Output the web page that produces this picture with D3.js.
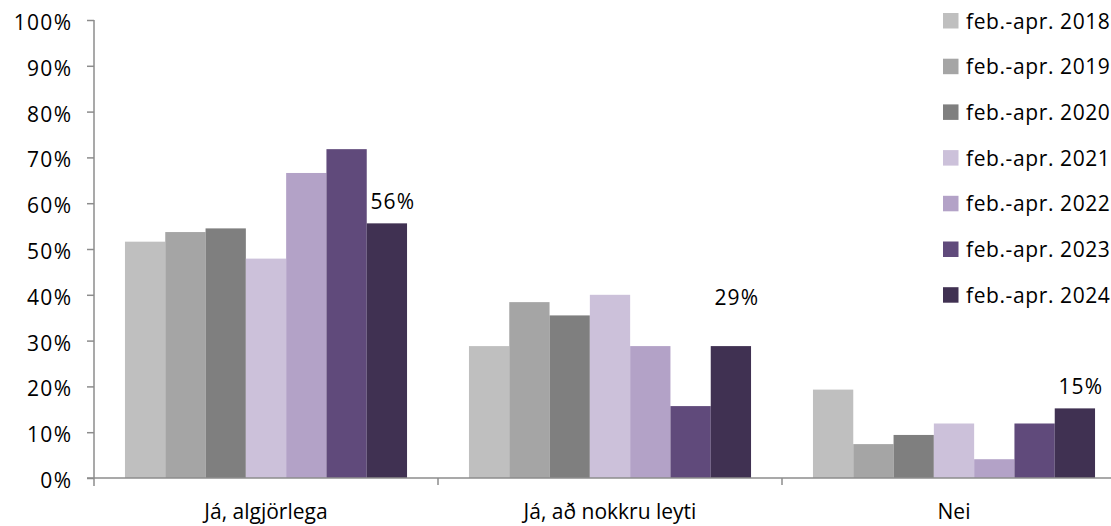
<!DOCTYPE html>
<html><head><meta charset="utf-8">
<script src="https://cdn.jsdelivr.net/npm/d3@7"></script>
<style>
html,body{margin:0;padding:0;background:#fff;}
text{font-family:"Open Sans",sans-serif;fill:#000;}
</style></head>
<body><svg id="c" width="1111" height="526"></svg>
<script>
const categories = ["Já, algjörlega", "Já, að nokkru leyti", "Nei"];
const seriesNames = ["feb.-apr. 2018","feb.-apr. 2019","feb.-apr. 2020","feb.-apr. 2021","feb.-apr. 2022","feb.-apr. 2023","feb.-apr. 2024"];
const v2018 = [51.6, 28.8, 19.3];
const v2019 = [53.7, 38.4, 7.4];
const v2020 = [54.5, 35.5, 9.4];
const v2021 = [47.9, 40.0, 11.9];
const v2022 = [66.6, 28.8, 4.1];
const v2023 = [71.8, 15.7, 11.9];
const v2024 = [55.6, 28.8, 15.2];
const labels2024 = ["56%", "29%", "15%"];
const yTicks = [0,10,20,30,40,50,60,70,80,90,100];
const colors = ["#bfbfbf","#a5a5a5","#7f7f7f","#ccc1da","#b3a2c7","#604a7b","#403152"];

const seriesValues = [v2018, v2019, v2020, v2021, v2022, v2023, v2024];
const svg = d3.select("#c");
const axisColor = "#8c8c8c";
const fs = 21;

const y = d3.scaleLinear().domain([0,100]).range([478,20]);
const x0 = d3.scaleBand().domain(categories).range([94,1126]).paddingInner(0.18).paddingOuter(0.09);
const x1 = d3.scaleBand().domain(seriesNames).range([0, x0.bandwidth()]);

// bars
seriesNames.forEach((s,si)=>{
  svg.append("g").selectAll("rect").data(categories).join("rect")
    .attr("x", c=>x0(c)+x1(s))
    .attr("width", x1.bandwidth())
    .attr("y", (c,ci)=>y(seriesValues[si][ci]))
    .attr("height", (c,ci)=>y(0)-y(seriesValues[si][ci]))
    .attr("fill", colors[si]);
});

// y axis
const yAxis = d3.axisLeft(y).tickValues(yTicks).tickFormat(d=>d+"%").tickSize(7).tickPadding(16);
const gy = svg.append("g").attr("transform","translate(94,0)").call(yAxis);
gy.select(".domain").attr("stroke",axisColor).attr("stroke-width",1.5).attr("d","M0,20V486");
gy.selectAll(".tick line").attr("stroke",axisColor).attr("stroke-width",1.5);
gy.selectAll(".tick text").attr("font-size",fs).attr("font-family","Open Sans").attr("fill","#000")
  .attr("dy","0.45em").attr("letter-spacing","1.3px").attr("dx","1.3px");

// x axis
const gx = svg.append("g").attr("transform","translate(0,478)");
gx.append("line").attr("x1",87).attr("x2",1111).attr("y1",0).attr("y2",0).attr("stroke",axisColor).attr("stroke-width",1.5);
const seps = categories.slice(1).map(c=>x0(c) - x0.step()*x0.paddingInner()/2);
gx.selectAll("line.sep").data(seps).join("line").attr("class","sep")
  .attr("x1",d=>d).attr("x2",d=>d).attr("y1",0).attr("y2",7).attr("stroke",axisColor).attr("stroke-width",1.5);
gx.selectAll("text.cat").data(categories).join("text").attr("class","cat")
  .attr("x",c=>x0(c)+x0.bandwidth()/2).attr("y",41)
  .attr("text-anchor","middle").attr("font-size",fs).text(c=>c);

// data labels for 2024
const lift = [14, 41, 14];
svg.selectAll("text.lbl").data(categories).join("text").attr("class","lbl")
  .attr("x",c=>x0(c)+x1(seriesNames[6])+x1.bandwidth()/2+6)
  .attr("y",(c,ci)=>y(v2024[ci])-lift[ci])
  .attr("text-anchor","middle").attr("font-size",fs).attr("letter-spacing","1.2px").text((c,ci)=>labels2024[ci]);

// legend
const lg = svg.append("g").attr("transform","translate(943,0)");
seriesNames.forEach((s,i)=>{
  const cy = 21 + i*45.7;
  lg.append("rect").attr("x",0).attr("y",cy-8).attr("width",15.5).attr("height",15.5).attr("fill",colors[i]);
  lg.append("text").attr("x",23).attr("y",cy).attr("dy","0.36em").attr("font-size",fs).attr("letter-spacing","0.6px").text(s);
});
</script></body></html>
